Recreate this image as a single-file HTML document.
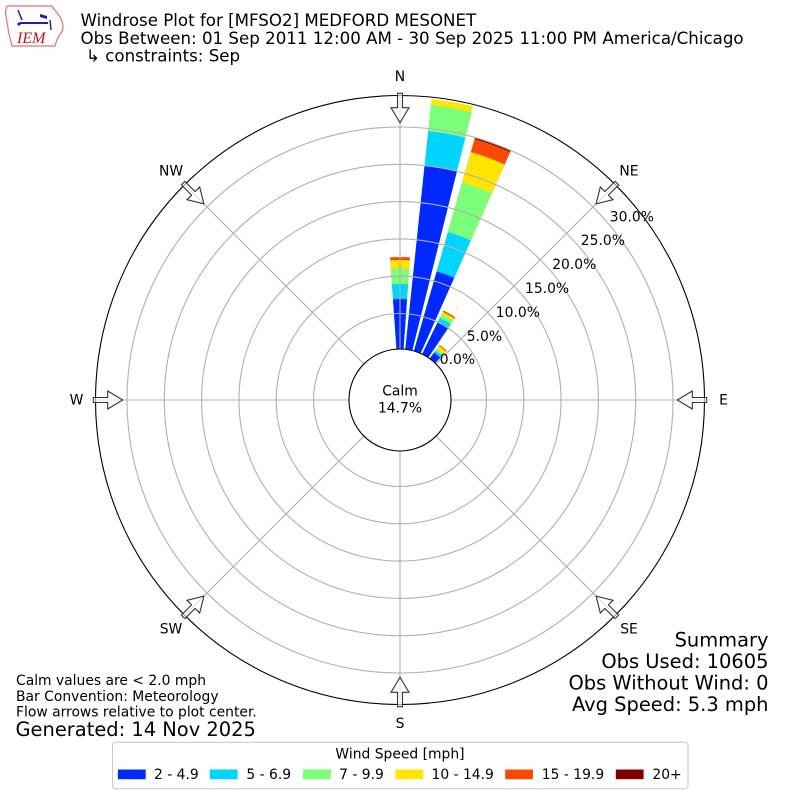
<!DOCTYPE html>
<html>
<head>
<meta charset="utf-8">
<style>
html,body{margin:0;padding:0;background:#fff;}
svg{display:block;font-family:"DejaVu Sans","Liberation Sans",sans-serif;}
</style>
</head>
<body>
<svg width="800" height="800" viewBox="0 0 800 800" xmlns="http://www.w3.org/2000/svg">
<rect width="800" height="800" fill="#fff"/>

<!-- Logo -->
<g>
  <path d="M7,6 L52,6 C53,9 56,11 58,14 C61,18 63,22 63,27 C63,31 61,33 59,36 C57,39 56,42 55,46 L12,46 C11,42 10,38 9,34 C8,28 7,22 6,16 C5,12 6,9 7,6 Z" fill="#fff" stroke="#e0707c" stroke-width="1.2"/>
  <path d="M18,10 L20,15 L22,20" fill="none" stroke="#1a1ac8" stroke-width="1.5"/>
  <line x1="20" y1="23" x2="48" y2="23" stroke="#1a1ac8" stroke-width="2"/>
  <circle cx="19" cy="24" r="1.6" fill="#1a1ac8"/>
  <polygon points="40,14 47,16 47,19 40,17" fill="#1a1ac8"/>
  <line x1="50" y1="20" x2="51" y2="30" stroke="#1a1ac8" stroke-width="1.4"/>
  <text x="17" y="43" font-family="Liberation Serif, serif" font-style="italic" font-size="16" fill="#c8102e">IEM</text>
</g>

<!-- Title -->
<text x="80.5" y="26" font-size="16.67" fill="#000">Windrose Plot for [MFSO2] MEDFORD MESONET</text>
<text x="80.5" y="44" font-size="16.67" fill="#000">Obs Between: 01 Sep 2011 12:00 AM - 30 Sep 2025 11:00 PM America/Chicago</text>
<text x="86" y="61.5" font-size="16.67" fill="#000">↳ constraints: Sep</text>

<!-- Bars -->
<g>
  <path d="M400 399.5 L390.060 257.347 A142.5 142.5 0 0 1 409.940 257.347 Z" fill="#ff4800"/>
  <path d="M400 399.5 L390.269 260.340 A139.5 139.5 0 0 1 409.731 260.340 Z" fill="#ffe500"/>
  <path d="M400 399.5 L390.862 268.819 A131 131 0 0 1 409.138 268.819 Z" fill="#7bff7b"/>
  <path d="M400 399.5 L391.943 284.281 A115.5 115.5 0 0 1 408.057 284.281 Z" fill="#00d4ff"/>
  <path d="M400 399.5 L392.989 299.245 A100.5 100.5 0 0 1 407.011 299.245 Z" fill="#0028ff"/>
</g>
<g transform="rotate(10 400 399.5)">
  <path d="M400 399.5 L378.934 98.236 A302 302 0 0 1 421.066 98.236 Z" fill="#ffe500"/>
  <path d="M400 399.5 L379.338 104.022 A296.2 296.2 0 0 1 420.662 104.022 Z" fill="#7bff7b"/>
  <path d="M400 399.5 L381.180 130.357 A269.8 269.8 0 0 1 418.820 130.357 Z" fill="#00d4ff"/>
  <path d="M400 399.5 L383.593 164.873 A235.2 235.2 0 0 1 416.407 164.873 Z" fill="#0028ff"/>
</g>
<g transform="rotate(20 400 399.5)">
  <path d="M400 399.5 L380.991 127.664 A272.5 272.5 0 0 1 419.009 127.664 Z" fill="#800000"/>
  <path d="M400 399.5 L381.096 129.160 A271 271 0 0 1 418.904 129.160 Z" fill="#ff4800"/>
  <path d="M400 399.5 L382.052 142.827 A257.3 257.3 0 0 1 417.948 142.827 Z" fill="#ffe500"/>
  <path d="M400 399.5 L384.249 174.250 A225.8 225.8 0 0 1 415.751 174.250 Z" fill="#7bff7b"/>
  <path d="M400 399.5 L387.855 225.824 A174.1 174.1 0 0 1 412.145 225.824 Z" fill="#00d4ff"/>
  <path d="M400 399.5 L390.709 266.624 A133.2 133.2 0 0 1 409.291 266.624 Z" fill="#0028ff"/>
</g>
<g transform="rotate(30 400 399.5)">
  <path d="M400 399.5 L393.094 300.741 A99 99 0 0 1 406.906 300.741 Z" fill="#ff4800"/>
  <path d="M400 399.5 L393.199 302.238 A97.5 97.5 0 0 1 406.801 302.238 Z" fill="#ffe500"/>
  <path d="M400 399.5 L393.373 304.731 A95 95 0 0 1 406.627 304.731 Z" fill="#7bff7b"/>
  <path d="M400 399.5 L393.666 308.921 A90.8 90.8 0 0 1 406.334 308.921 Z" fill="#00d4ff"/>
  <path d="M400 399.5 L393.987 313.510 A86.2 86.2 0 0 1 406.013 313.510 Z" fill="#0028ff"/>
</g>
<g transform="rotate(40 400 399.5)">
  <path d="M400 399.5 L395.291 332.164 A67.5 67.5 0 0 1 404.709 332.164 Z" fill="#ff4800"/>
  <path d="M400 399.5 L395.361 333.162 A66.5 66.5 0 0 1 404.639 333.162 Z" fill="#ffe500"/>
  <path d="M400 399.5 L395.605 336.653 A63 63 0 0 1 404.395 336.653 Z" fill="#7bff7b"/>
  <path d="M400 399.5 L395.780 339.147 A60.5 60.5 0 0 1 404.220 339.147 Z" fill="#00d4ff"/>
  <path d="M400 399.5 L395.954 341.641 A58 58 0 0 1 404.046 341.641 Z" fill="#0028ff"/>
</g>

<!-- Grid rings -->
<g fill="none" stroke="#b0b0b0" stroke-width="1.1">
  <circle cx="400" cy="400" r="86.5"/>
  <circle cx="400" cy="400" r="123.8"/>
  <circle cx="400" cy="400" r="161.1"/>
  <circle cx="400" cy="400" r="198.4"/>
  <circle cx="400" cy="400" r="235.7"/>
  <circle cx="400" cy="400" r="273.0"/>
</g>
<!-- Spokes -->
<g stroke="#b0b0b0" stroke-width="1.1">
  <line x1="400" y1="349" x2="400" y2="95.5"/>
  <line x1="400" y1="349" x2="400" y2="95.5" transform="rotate(45 400 400)"/>
  <line x1="400" y1="349" x2="400" y2="95.5" transform="rotate(90 400 400)"/>
  <line x1="400" y1="349" x2="400" y2="95.5" transform="rotate(135 400 400)"/>
  <line x1="400" y1="349" x2="400" y2="95.5" transform="rotate(180 400 400)"/>
  <line x1="400" y1="349" x2="400" y2="95.5" transform="rotate(225 400 400)"/>
  <line x1="400" y1="349" x2="400" y2="95.5" transform="rotate(270 400 400)"/>
  <line x1="400" y1="349" x2="400" y2="95.5" transform="rotate(315 400 400)"/>
</g>

<!-- Outer circle -->
<circle cx="400" cy="400" r="304.5" fill="none" stroke="#000" stroke-width="1.1"/>

<!-- Calm circle -->
<circle cx="400" cy="400" r="51" fill="#fff" stroke="#000" stroke-width="1.1"/>
<text x="400" y="395.7" font-size="13.89" text-anchor="middle" fill="#000">Calm</text>
<text x="400" y="412.3" font-size="13.89" text-anchor="middle" fill="#000">14.7%</text>

<!-- Direction arrows -->
<g fill="#fff" fill-opacity="0.6" stroke="#333" stroke-width="1.1" stroke-linejoin="miter">
  <polygon points="397.5,93.3 402.5,93.3 402.5,107.7 409,107.7 400,122.7 391,107.7 397.5,107.7"/>
  <polygon points="397.5,93.3 402.5,93.3 402.5,107.7 409,107.7 400,122.7 391,107.7 397.5,107.7" transform="rotate(45 400 400)"/>
  <polygon points="397.5,93.3 402.5,93.3 402.5,107.7 409,107.7 400,122.7 391,107.7 397.5,107.7" transform="rotate(90 400 400)"/>
  <polygon points="397.5,93.3 402.5,93.3 402.5,107.7 409,107.7 400,122.7 391,107.7 397.5,107.7" transform="rotate(135 400 400)"/>
  <polygon points="397.5,93.3 402.5,93.3 402.5,107.7 409,107.7 400,122.7 391,107.7 397.5,107.7" transform="rotate(180 400 400)"/>
  <polygon points="397.5,93.3 402.5,93.3 402.5,107.7 409,107.7 400,122.7 391,107.7 397.5,107.7" transform="rotate(225 400 400)"/>
  <polygon points="397.5,93.3 402.5,93.3 402.5,107.7 409,107.7 400,122.7 391,107.7 397.5,107.7" transform="rotate(270 400 400)"/>
  <polygon points="397.5,93.3 402.5,93.3 402.5,107.7 409,107.7 400,122.7 391,107.7 397.5,107.7" transform="rotate(315 400 400)"/>
</g>

<!-- Cardinal labels -->
<g font-size="13.89" text-anchor="middle" fill="#000">
  <text x="400" y="81.1">N</text>
  <text x="629" y="175.6">NE</text>
  <text x="723.5" y="404.6">E</text>
  <text x="629" y="633.4">SE</text>
  <text x="400" y="728">S</text>
  <text x="171" y="633.4">SW</text>
  <text x="76.5" y="404.6">W</text>
  <text x="171" y="175.6">NW</text>
</g>

<!-- Radial labels -->
<g font-size="13.89" fill="#000">
  <text x="439.8" y="364">0.0%</text>
  <text x="466.8" y="341">5.0%</text>
  <text x="495.8" y="317">10.0%</text>
  <text x="525" y="293">15.0%</text>
  <text x="552.2" y="269">20.0%</text>
  <text x="580.8" y="245">25.0%</text>
  <text x="609.8" y="221.7">30.0%</text>
</g>

<!-- Bottom-left notes -->
<g fill="#000">
  <text x="16" y="685" font-size="13.89">Calm values are &lt; 2.0 mph</text>
  <text x="16" y="701" font-size="13.89">Bar Convention: Meteorology</text>
  <text x="16" y="716.7" font-size="13.89">Flow arrows relative to plot center.</text>
  <text x="15.5" y="736" font-size="19.44">Generated: 14 Nov 2025</text>
</g>

<!-- Summary -->
<g fill="#000" font-size="19.44" text-anchor="end">
  <text x="768.5" y="646.7">Summary</text>
  <text x="768.5" y="668.2">Obs Used: 10605</text>
  <text x="768.5" y="689.6">Obs Without Wind: 0</text>
  <text x="768.5" y="711">Avg Speed: 5.3 mph</text>
</g>

<!-- Legend -->
<rect x="112.5" y="742.3" width="575.5" height="46.4" rx="3" ry="3" fill="#fff" fill-opacity="0.8" stroke="#cccccc" stroke-width="1.1"/>
<text x="400" y="758.3" font-size="13.89" text-anchor="middle" fill="#000">Wind Speed [mph]</text>
<g>
  <rect x="117.9" y="769.5" width="27.8" height="9.7" fill="#0028ff"/>
  <rect x="209.8" y="769.5" width="27.8" height="9.7" fill="#00d4ff"/>
  <rect x="303" y="769.5" width="27.8" height="9.7" fill="#7bff7b"/>
  <rect x="395.4" y="769.5" width="27.8" height="9.7" fill="#ffe500"/>
  <rect x="505.2" y="769.5" width="27.8" height="9.7" fill="#ff4800"/>
  <rect x="615.8" y="769.5" width="27.8" height="9.7" fill="#800000"/>
</g>
<g font-size="13.89" fill="#000">
  <text x="154" y="779">2 - 4.9</text>
  <text x="246.4" y="779">5 - 6.9</text>
  <text x="339.1" y="779">7 - 9.9</text>
  <text x="431.5" y="779">10 - 14.9</text>
  <text x="541.8" y="779">15 - 19.9</text>
  <text x="652.4" y="779">20+</text>
</g>
</svg>
</body>
</html>
